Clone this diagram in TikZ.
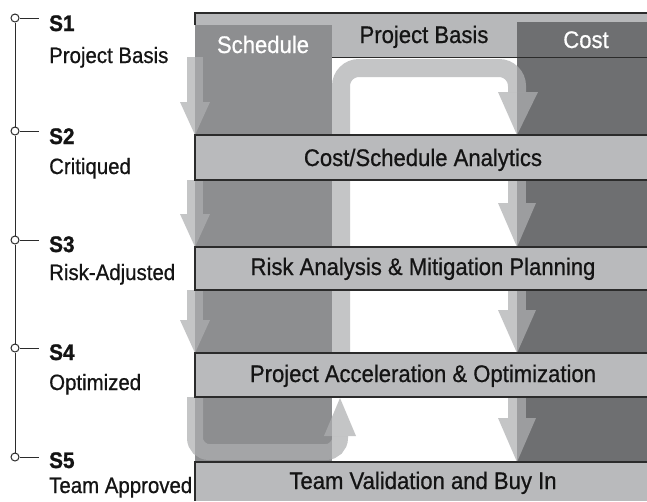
\documentclass[tikz,border=0pt]{standalone}
\usepackage{fontspec}
\setmainfont{Liberation Sans}
\newfontfamily\cf[FakeStretch=0.92, FakeBold=0.7, BoldFeatures={FakeBold=1.2}]{Liberation Sans}
\definecolor{schedcol}{HTML}{8D8E90}
\definecolor{costcol}{HTML}{6E6F71}
\definecolor{barcol}{HTML}{B9BABC}
\definecolor{headcol}{HTML}{B7B8BA}
\definecolor{bandcol}{HTML}{AEAFB1}
\definecolor{linecol}{HTML}{2B2B2B}
\definecolor{txtcol}{HTML}{141414}
\begin{document}
\begin{tikzpicture}[x=1pt,y=-1pt,
  lband/.style={draw=bandcol, draw opacity=0.72, line width=16pt},
  rband/.style={draw=bandcol, draw opacity=0.72, line width=18pt},
  ahead/.style={fill=bandcol, fill opacity=0.72},
  barfill/.style={fill=barcol},
  barline/.style={draw=linecol, line width=1.4pt},
  dot/.style={circle, draw=linecol, fill=white, line width=1pt, minimum size=8pt, inner sep=0pt},
  tl/.style={draw=linecol, line width=1pt},
  stage/.style={anchor=base west, inner sep=0pt, text=txtcol, font=\cf\fontsize{22.5}{24}\selectfont\bfseries},
  sub/.style={anchor=base west, inner sep=0pt, text=txtcol, font=\cf\fontsize{22.2}{24}\selectfont},
  rowtxt/.style={anchor=base, inner sep=0pt, text=txtcol, font=\cf\fontsize{24}{26}\selectfont},
  headtxt/.style={anchor=base, inner sep=0pt, font=\cf\fontsize{24}{26}\selectfont}]
\useasboundingbox (0,0) rectangle (647,501);
\fill[white] (0,0) rectangle (647,501);

% header and columns
\fill[headcol] (195,13) rectangle (647,57);
\fill[schedcol] (195,25) rectangle (332,462);
\fill[costcol] (517,22) rectangle (647,462);
\draw[linecol, line width=1.4pt] (195,25) -- (195,13) -- (647,13);
\draw[linecol, line width=0.8pt] (332,57) -- (647,57);

% big loop band (middle, top, into cost column)
\draw[rband, rounded corners=18pt] (341,397) -- (341,68) -- (517,68) -- (517,92);
\fill[ahead] (498,92) -- (538,92) -- (517,135) -- cycle;

% left column arrows
\draw[lband] (195,57) -- (195,102);
\fill[ahead] (180,102) -- (210,102) -- (195,135) -- cycle;
\draw[lband] (195,180) -- (195,214);
\fill[ahead] (180,214) -- (210,214) -- (195,247) -- cycle;
\draw[lband] (195,290) -- (195,320);
\fill[ahead] (180,320) -- (210,320) -- (195,353) -- cycle;
% bottom loop back up
\draw[lband, rounded corners=14pt] (195,397) -- (195,452) -- (340,452) -- (340,436);
\fill[ahead] (324,436) -- (356,436) -- (340,398) -- cycle;

% right column arrows
\draw[rband] (517,180) -- (517,203);
\fill[ahead] (498,203) -- (536,203) -- (517,247) -- cycle;
\draw[rband] (517,290) -- (517,310);
\fill[ahead] (498,310) -- (536,310) -- (517,353) -- cycle;
\draw[rband] (517,397) -- (517,418);
\fill[ahead] (498,418) -- (536,418) -- (517,462) -- cycle;

% bars
\fill[barfill] (195,135) rectangle (647,180);
\draw[barline] (647,135) -- (195,135) -- (195,180) -- (647,180);
\fill[barfill] (195,247) rectangle (647,290);
\draw[barline] (647,247) -- (195,247) -- (195,290) -- (647,290);
\fill[barfill] (195,353) rectangle (647,397);
\draw[barline] (647,353) -- (195,353) -- (195,397) -- (647,397);
\fill[barfill] (195,462) rectangle (647,501);
\draw[barline] (647,462) -- (195,462) -- (195,501);

% header texts
\node[headtxt, text=white] (hsched) at (263,53) {Schedule};
\node[headtxt, text=txtcol] (hbasis) at (424,43) {Project Basis};
\node[headtxt, text=white] (hcost) at (586,48) {Cost};

% row texts
\node[rowtxt] (r2) at (423,166) {Cost/Schedule Analytics};
\node[rowtxt] (r3) at (423,275) {Risk Analysis \& Mitigation Planning};
\node[rowtxt] (r4) at (423,382) {Project Acceleration \& Optimization};
\node[rowtxt] (r5) at (423,489) {Team Validation and Buy In};

% timeline
\node[dot] (c1) at (15,18) {};
\node[dot] (c2) at (15,131) {};
\node[dot] (c3) at (15,240) {};
\node[dot] (c4) at (15,348) {};
\node[dot] (c5) at (15,457) {};
\draw[tl] (c1.south) -- (c2.north);
\draw[tl] (c2.south) -- (c3.north);
\draw[tl] (c3.south) -- (c4.north);
\draw[tl] (c4.south) -- (c5.north);
\coordinate (t1) at (39,18);
\coordinate (t2) at (39,131);
\coordinate (t3) at (39,240);
\coordinate (t4) at (39,348);
\coordinate (t5) at (39,457);
\draw[tl] (c1.east) -- (t1);
\draw[tl] (c2.east) -- (t2);
\draw[tl] (c3.east) -- (t3);
\draw[tl] (c4.east) -- (t4);
\draw[tl] (c5.east) -- (t5);

\node[stage] (s1) at (49,31) {S1};
\node[sub] (l1) at (49,63) {Project Basis};
\node[stage] (s2) at (49,144) {S2};
\node[sub] (l2) at (49,174) {Critiqued};
\node[stage] (s3) at (49,252) {S3};
\node[sub] (l3) at (49,280) {Risk-Adjusted};
\node[stage] (s4) at (49,360) {S4};
\node[sub] (l4) at (49,390) {Optimized};
\node[stage] (s5) at (49,468) {S5};
\node[sub] (l5) at (49,493) {Team Approved};
\end{tikzpicture}
\end{document}
